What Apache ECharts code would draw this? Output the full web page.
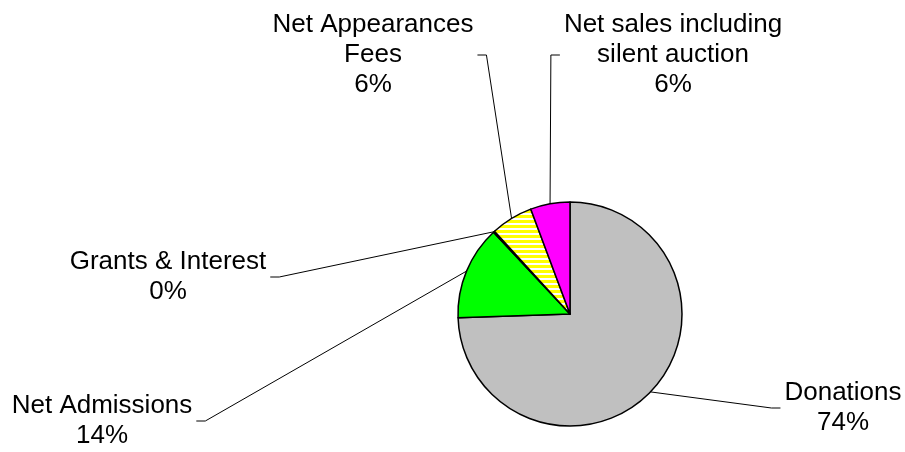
<!DOCTYPE html>
<html>
<head>
<meta charset="utf-8">
<script src="https://cdn.jsdelivr.net/npm/echarts@6/dist/echarts.min.js"></script>
<style>
  html, body { margin: 0; padding: 0; background: #fff; }
  #main { width: 905px; height: 452px; }
</style>
</head>
<body>
<div id="main"></div>
<script>
// data (percent of total)
var names = ['Donations', 'Net Admissions', 'Grants & Interest', 'Net Appearances\nFees', 'Net sales including\nsilent auction'];
var values = [74.48, 13.55, 0.2, 6.07, 5.7];
var colors = ['#c0c0c0', '#00ff00', '#ffff00', null, '#ff00ff']; // 3 = striped

// label block centres (layout only)
var labelPos = [[843, 408], [102, 421], [168, 277], [373, 55], [673, 55]];

// yellow / white horizontal stripes
function stripes() {
  var c = document.createElement('canvas');
  c.width = 5; c.height = 5;
  var g = c.getContext('2d');
  g.fillStyle = '#ffffff';
  g.fillRect(0, 0, 5, 5);
  g.fillStyle = '#ffff00';
  g.fillRect(0, 0, 5, 3);
  return c;
}
colors[3] = { image: stripes(), repeat: 'repeat' };

var pieData = names.map(function (n, i) {
  return { name: n, value: values[i], itemStyle: { color: colors[i] } };
});

var myChart = echarts.init(document.getElementById('main'));
var option = {
  animation: false,
  series: [{
    type: 'pie',
    center: [570, 314],
    radius: 112,
    startAngle: 90,
    clockwise: true,
    avoidLabelOverlap: false,
    itemStyle: { borderColor: '#000', borderWidth: 1.5 },
    label: {
      show: true,
      position: 'outside',
      color: '#000',
      fontFamily: 'Liberation Sans, Arial, sans-serif',
      fontSize: 26,
      lineHeight: 30,
      align: 'center',
      formatter: function (p) {
        return p.name + '\n' + Math.round(p.percent) + '%';
      }
    },
    labelLine: { show: true, lineStyle: { color: '#000', width: 1 } },
    labelLayout: function (params) {
      var pos = labelPos[params.dataIndex];
      var w = params.labelRect.width;
      var p0 = params.labelLinePoints[0];
      var left = pos[0] < p0[0];
      var ex = left ? pos[0] + w / 2 + 4 : pos[0] - w / 2 - 4;
      var mx = left ? ex + 9 : ex - 9;
      return {
        x: pos[0],
        y: pos[1],
        align: 'center',
        verticalAlign: 'middle',
        labelLinePoints: [[p0[0], p0[1]], [mx, pos[1]], [ex, pos[1]]]
      };
    },
    emphasis: { disabled: true },
    data: pieData
  }]
};
myChart.setOption(option);
</script>
</body>
</html>
